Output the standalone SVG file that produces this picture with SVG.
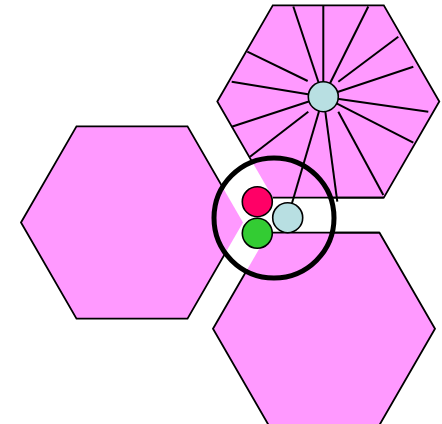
<svg xmlns="http://www.w3.org/2000/svg" width="442" height="424" viewBox="0 0 442 424">
<style>
.hexfill{fill:#ff99ff;stroke:none}
.hexline{fill:none;stroke:#000;stroke-width:1.8;stroke-linejoin:miter}
.edge{stroke:#000;stroke-width:2;fill:none}
.dot{stroke:#000;stroke-width:1.6}
</style>
<defs>
<mask id="lens" maskUnits="userSpaceOnUse" x="0" y="0" width="442" height="424">
<rect x="0" y="0" width="442" height="424" fill="#fff"/>
<circle cx="274" cy="218" r="58" fill="#000"/>
</mask>
</defs>
<rect x="0" y="0" width="442" height="424" fill="#fff"/>
<g id="hex-left">
<polygon class="hexfill" points="21,222.5 76.5,126.4 187.5,126.4 243,222.5 187.5,318.6 76.5,318.6"/>
<polygon class="hexline" mask="url(#lens)" points="21,222.5 76.5,126.4 187.5,126.4 243,222.5 187.5,318.6 76.5,318.6"/>
</g>
<g id="hex-top">
<polygon class="hexfill" points="217.3,101.5 272.8,5.4 383.8,5.4 439.3,101.5 383.8,197.6 272.8,197.6"/>
<polygon class="hexline" mask="url(#lens)" points="217.3,101.5 272.8,5.4 383.8,5.4 439.3,101.5 383.8,197.6 272.8,197.6"/>
<line class="hexline" x1="272.8" y1="197.6" x2="383.8" y2="197.6"/>
</g>
<g id="hex-bottom">
<polygon class="hexfill" points="213,328.8 268.5,232.7 379.5,232.7 435,328.8 379.5,424.9 268.5,424.9"/>
<polygon class="hexline" mask="url(#lens)" points="213,328.8 268.5,232.7 379.5,232.7 435,328.8 379.5,424.9 268.5,424.9"/>
<line class="hexline" x1="268.5" y1="232.7" x2="379.5" y2="232.7"/>
</g>
<g id="connectors">
<line class="edge" x1="293.3" y1="6.5" x2="323.3" y2="96.7"/>
<line class="edge" x1="323.3" y1="6" x2="323.3" y2="96.7"/>
<line class="edge" x1="368.3" y1="6.5" x2="323.3" y2="96.7"/>
<line class="edge" x1="398.3" y1="36.7" x2="338.3" y2="81.7"/>
<line class="edge" x1="413.3" y1="66.7" x2="323.3" y2="96.7"/>
<line class="edge" x1="428.3" y1="111.7" x2="323.3" y2="96.7"/>
<line class="edge" x1="413.3" y1="142.7" x2="323.3" y2="96.7"/>
<line class="edge" x1="383.3" y1="195" x2="338.3" y2="111.7"/>
<line class="edge" x1="337.3" y1="201.7" x2="323.3" y2="96.7"/>
<line class="edge" x1="287.7" y1="217.7" x2="323.3" y2="96.7"/>
<line class="edge" x1="250" y1="156.7" x2="308.3" y2="111.7"/>
<line class="edge" x1="231.7" y1="126.7" x2="323.3" y2="96.7"/>
<line class="edge" x1="231.7" y1="81.7" x2="323.3" y2="96.7"/>
<line class="edge" x1="247.3" y1="51.7" x2="307.7" y2="81"/>
</g>
<g id="hub"><circle class="dot" cx="323.3" cy="96.7" r="15" fill="#b8dfe2"/></g>
<g id="lens-ring"><circle cx="274" cy="218" r="60" fill="none" stroke="#000" stroke-width="5"/></g>
<g id="node-red"><circle class="dot" cx="257.3" cy="201.7" r="15" fill="#ff0066"/></g>
<g id="node-green"><circle class="dot" cx="257.3" cy="233.3" r="15" fill="#33cc33"/></g>
<g id="node-blue"><circle class="dot" cx="287.7" cy="217.7" r="15" fill="#b8dfe2"/></g>
</svg>
